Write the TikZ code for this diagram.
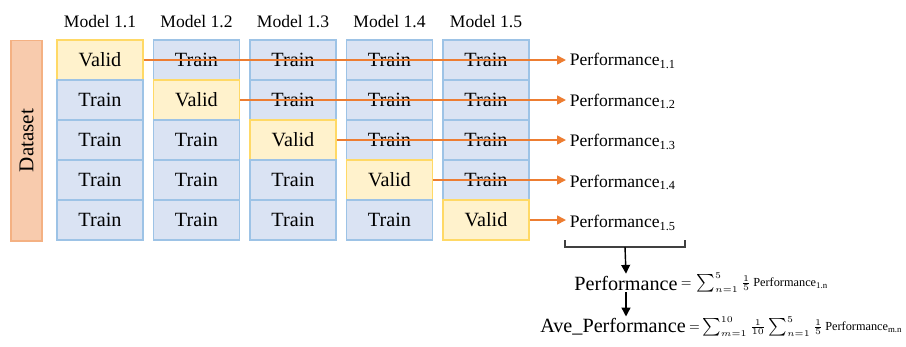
\documentclass[tikz,border=0pt]{standalone}
\usepackage{fontspec}
\setmainfont{Liberation Serif}
\usepackage{tikz}
\usetikzlibrary{arrows.meta, positioning, calc}
\definecolor{cellblue}{HTML}{DAE3F3}
\definecolor{edgeblue}{HTML}{9DC3E6}
\definecolor{cellyellow}{HTML}{FFF2CC}
\definecolor{edgeyellow}{HTML}{FFD966}
\definecolor{dataorange}{HTML}{F8CBAD}
\definecolor{dataedge}{HTML}{F4B183}
\definecolor{arroworange}{HTML}{ED7D31}
\tikzset{
  train/.style={rectangle, draw=edgeblue, fill=cellblue,
    minimum width=1.72cm, minimum height=0.8cm, inner sep=0pt,
    font=\fontsize{11.5}{13}\selectfont, line width=0.6pt},
  valid/.style={train, draw=edgeyellow, fill=cellyellow},
  datanode/.style={rectangle, draw=dataedge, fill=dataorange, rotate=90,
    minimum width=4.02cm, minimum height=0.62cm, inner sep=0pt,
    font=\fontsize{12}{14}\selectfont, line width=0.6pt},
  perflabel/.style={anchor=west, inner sep=2pt, font=\fontsize{10}{12}\selectfont},
  bigtext/.style={inner sep=1pt, font=\fontsize{11.5}{13}\selectfont},
  smalltext/.style={inner sep=0.5pt, font=\fontsize{7}{8}\selectfont},
  perfarrow/.style={-{Triangle[length=5pt,width=5pt]}, color=arroworange, line width=0.9pt},
  downarrow/.style={-{Triangle[length=5pt,width=5pt]}, line width=0.8pt, color=black},
  bracket/.style={line width=0.6pt, color=black!75}
}

\begin{document}
\begin{tikzpicture}[x=0.02cm, y=-0.02cm]
  \useasboundingbox (0,0) rectangle (906,346);

  \node[datanode] (dataset) at (26.5,140.5) {Dataset};

  % folds: one column per model
  \foreach \m in {1,...,5} {
    \node[font=\fontsize{10}{12}\selectfont] (title\m) at ({100+96.5*(\m-1)}, 22) {Model 1.\m};
    \foreach \r in {1,...,5} {
      \ifnum\r=\m
        \node[valid] (c\m\r) at ({100+96.5*(\m-1)}, {60+40*(\r-1)}) {Valid};
      \else
        \node[train] (c\m\r) at ({100+96.5*(\m-1)}, {60+40*(\r-1)}) {Train};
      \fi
    }
  }

  % performance of each fold
  \foreach \m in {1,...,5} {
    \node[perflabel] (perf\m) at (566, {61+40.5*(\m-1)}) {Performance\textsubscript{1.\m}};
    \draw[perfarrow] (c\m\m.east) -- (c\m\m.east -| perf\m.west);
  }

  % bracket under the five results
  \coordinate (brl) at (565,240);
  \coordinate (brr) at (685,240);
  \coordinate (brc) at (625,247);
  \draw[bracket] (brl) -- (brl |- brc) -- (brr |- brc) -- (brr);

  \node[bigtext] (perfsum) at (626,283) {Performance};
  \node[smalltext, right=0pt of perfsum] (perfeq)
    {${=}\,\sum_{n=1}^{5}\frac{1}{5}$\,Performance\textsubscript{1.n}};
  \draw[downarrow] (brc) -- (perfsum.north);

  \node[bigtext] (aveperf) at (613,327) {Ave\_Performance};
  \node[smalltext, right=0pt of aveperf] (aveeq)
    {${=}\sum_{m=1}^{10}\frac{1}{10}\sum_{n=1}^{5}\frac{1}{5}$\,Performance\textsubscript{m.n}};
  \draw[downarrow] (perfsum.south) -- (perfsum.south |- aveperf.north);
\end{tikzpicture}
\end{document}
